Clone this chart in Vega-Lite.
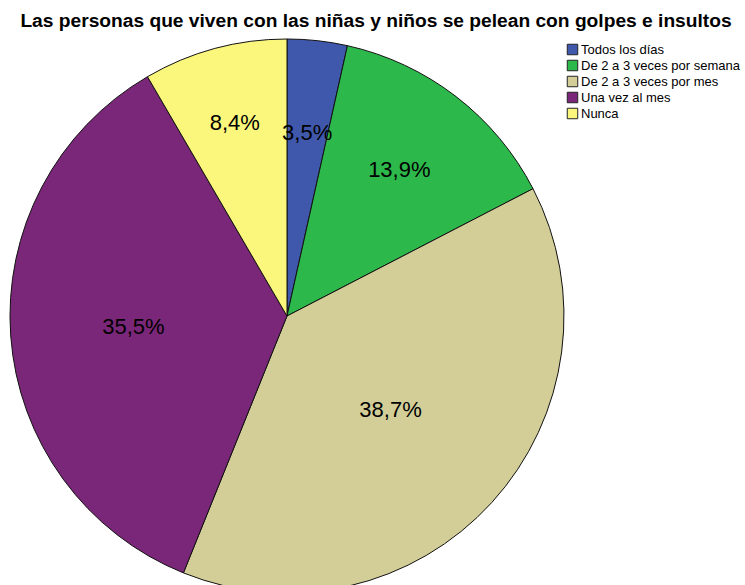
{
  "$schema": "https://vega.github.io/schema/vega-lite/v6.json",
  "width": 574,
  "height": 554,
  "autosize": {"type": "none"},
  "padding": {"left": 0, "top": 39, "right": 171, "bottom": 0},
  "background": "white",
  "title": {
    "text": "Las personas que viven con las niñas y niños se pelean con golpes e insultos",
    "font": "Liberation Sans",
    "fontSize": 19.2,
    "fontWeight": "bold",
    "color": "#000000",
    "anchor": "middle",
    "dx": 89,
    "offset": 6
  },
  "data": {
    "values": [
      {"categoria": "Todos los días", "orden": 1, "pct": 3.5, "etiqueta": "3,5%"},
      {"categoria": "De 2 a 3 veces por semana", "orden": 2, "pct": 13.9, "etiqueta": "13,9%"},
      {"categoria": "De 2 a 3 veces por mes", "orden": 3, "pct": 38.7, "etiqueta": "38,7%"},
      {"categoria": "Una vez al mes", "orden": 4, "pct": 35.5, "etiqueta": "35,5%"},
      {"categoria": "Nunca", "orden": 5, "pct": 8.4, "etiqueta": "8,4%"}
    ]
  },
  "encoding": {
    "theta": {"field": "pct", "type": "quantitative", "stack": true},
    "order": {"field": "orden", "type": "quantitative", "sort": "ascending"},
    "color": {
      "field": "categoria",
      "type": "nominal",
      "sort": ["Todos los días", "De 2 a 3 veces por semana", "De 2 a 3 veces por mes", "Una vez al mes", "Nunca"],
      "scale": {
        "domain": ["Todos los días", "De 2 a 3 veces por semana", "De 2 a 3 veces por mes", "Una vez al mes", "Nunca"],
        "range": ["#3F58AB", "#2DB84B", "#D3CE98", "#7B2779", "#FBF77C"]
      },
      "legend": {
        "title": null,
        "orient": "none",
        "legendX": 566,
        "legendY": 4,
        "symbolType": "square",
        "symbolSize": 110,
        "symbolStrokeColor": "#222222",
        "symbolStrokeWidth": 1,
        "labelFont": "Liberation Sans",
        "labelFontSize": 13,
        "labelColor": "#000000",
        "rowPadding": 1,
        "labelOffset": 2,
        "symbolOffset": 0,
        "padding": 0
      }
    }
  },
  "layer": [
    {
      "mark": {"type": "arc", "stroke": "#111111", "strokeWidth": 1}
    },
    {
      "mark": {"type": "text", "font": "Liberation Sans", "fontSize": 22, "baseline": "middle", "align": "center", "radius": 184},
      "encoding": {"text": {"condition": {"test": "datum.orden <= 2", "field": "etiqueta"}, "value": ""}, "color": {"value": "#000000"}}
    },
    {
      "mark": {"type": "text", "font": "Liberation Sans", "fontSize": 22, "baseline": "middle", "align": "center", "radius": 140},
      "encoding": {"text": {"condition": {"test": "datum.orden == 3", "field": "etiqueta"}, "value": ""}, "color": {"value": "#000000"}}
    },
    {
      "mark": {"type": "text", "font": "Liberation Sans", "fontSize": 22, "baseline": "middle", "align": "center", "radius": 154},
      "encoding": {"text": {"condition": {"test": "datum.orden == 4", "field": "etiqueta"}, "value": ""}, "color": {"value": "#000000"}}
    },
    {
      "mark": {"type": "text", "font": "Liberation Sans", "fontSize": 22, "baseline": "middle", "align": "center", "radius": 200},
      "encoding": {"text": {"condition": {"test": "datum.orden == 5", "field": "etiqueta"}, "value": ""}, "color": {"value": "#000000"}}
    }
  ]
}
